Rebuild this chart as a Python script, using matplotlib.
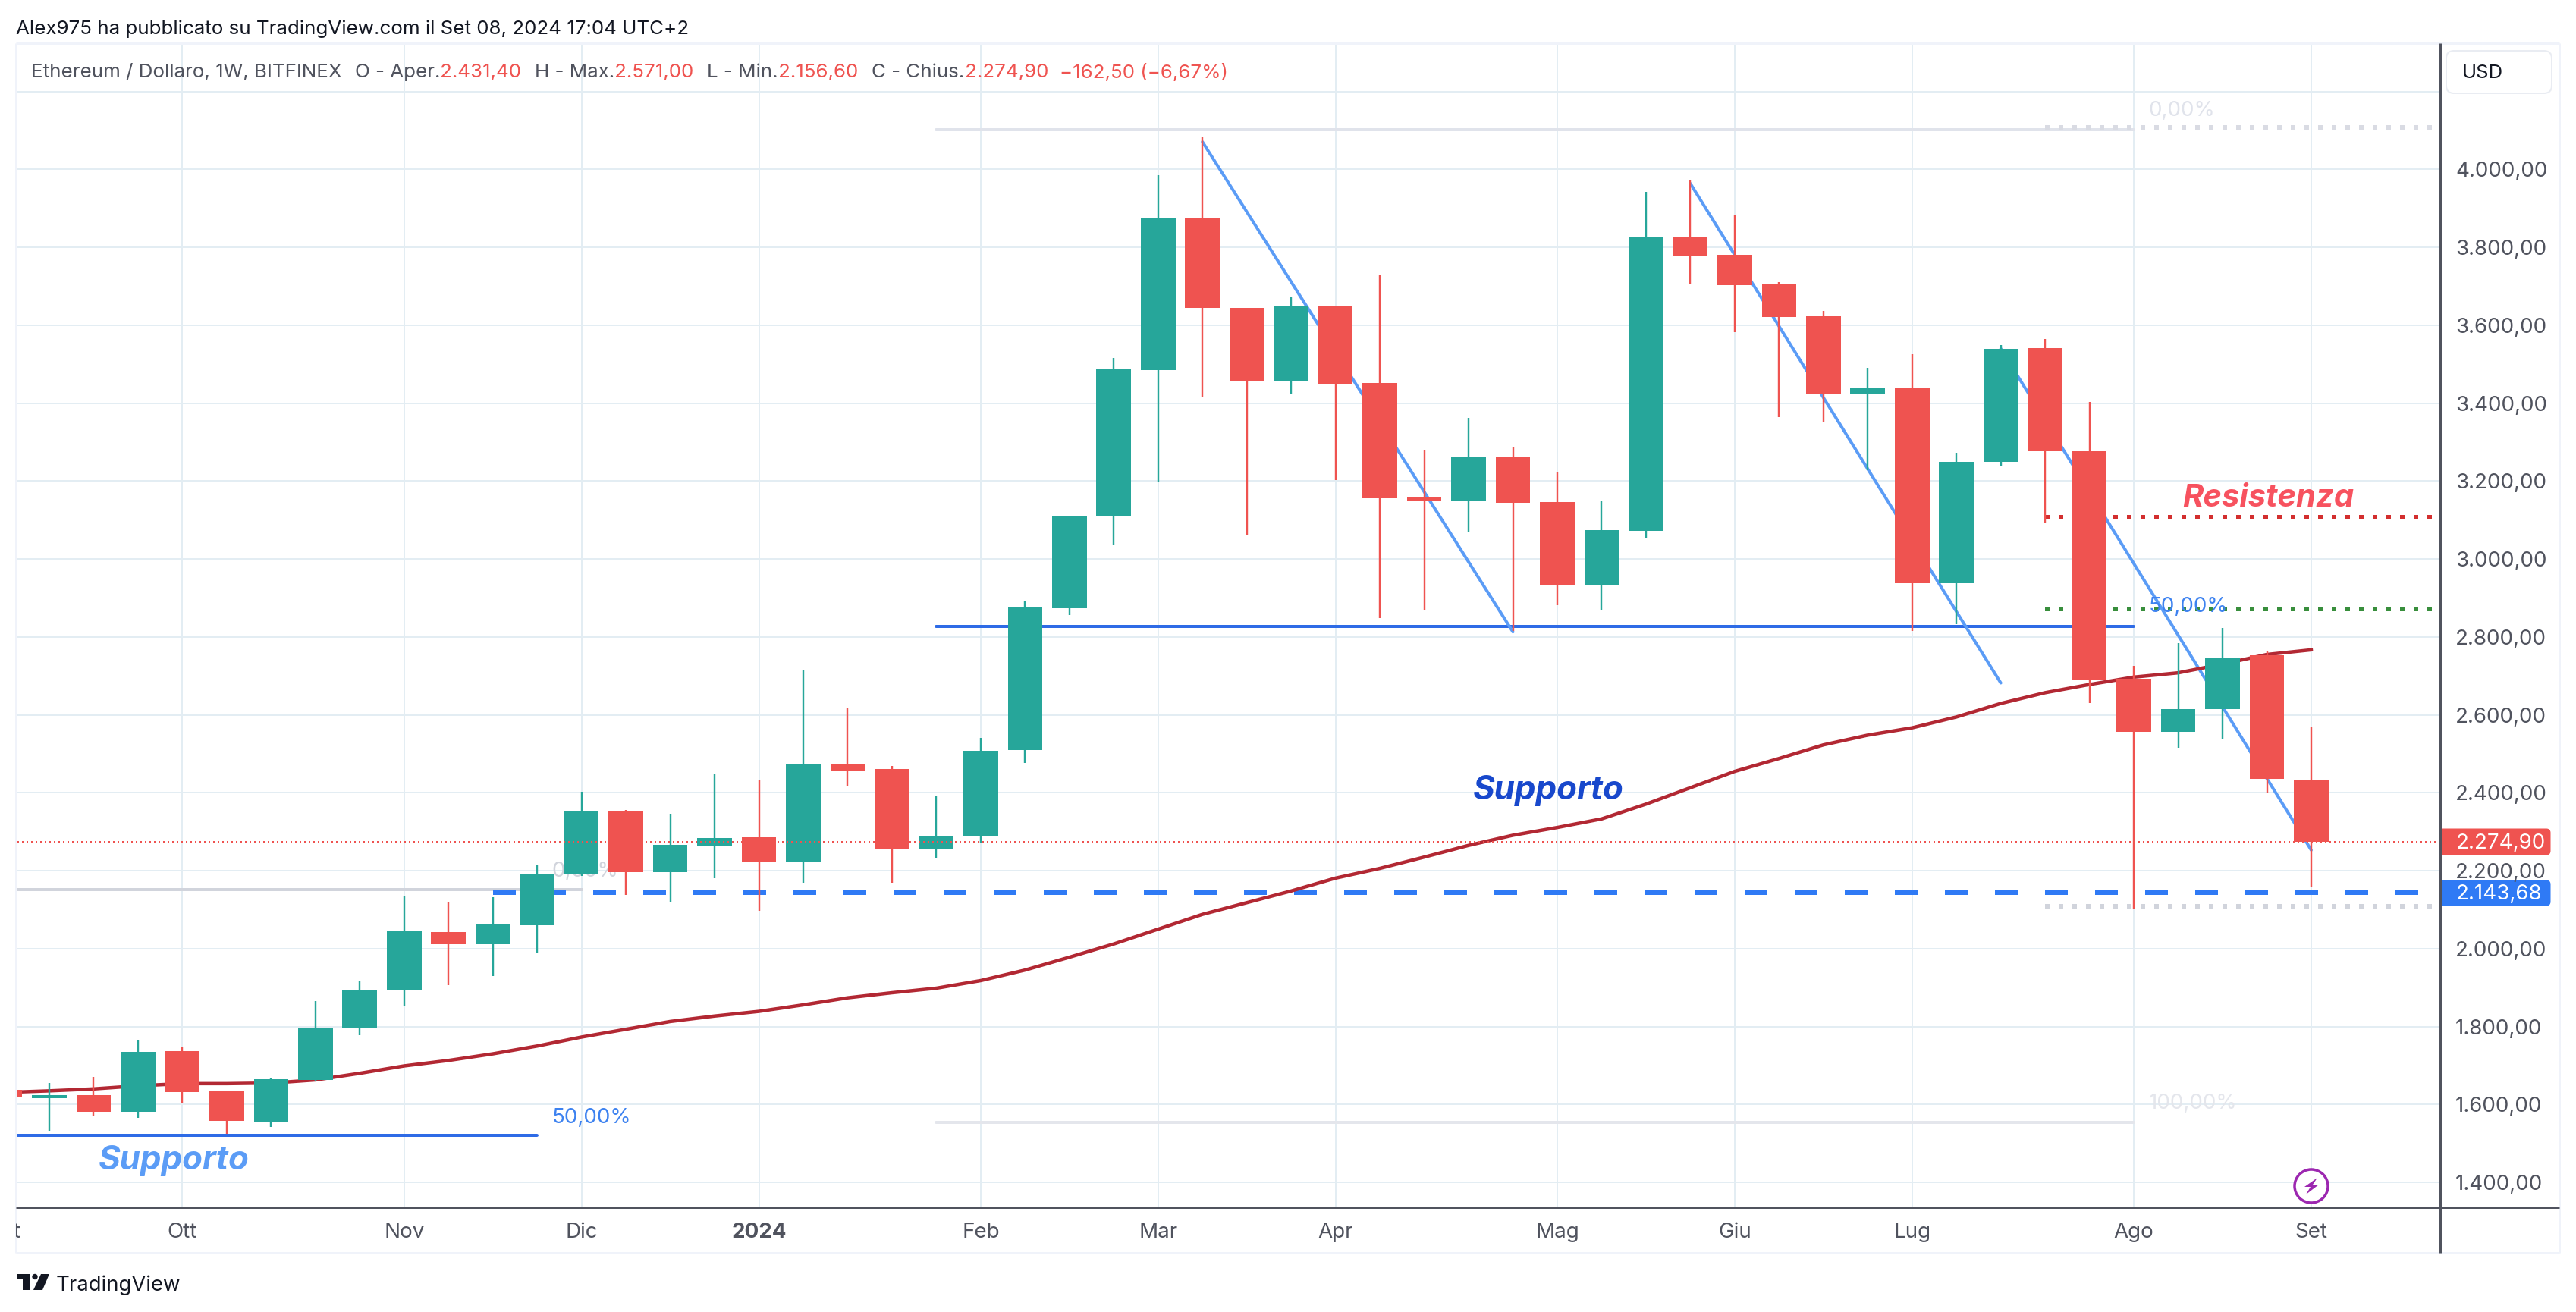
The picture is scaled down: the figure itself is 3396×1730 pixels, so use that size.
import matplotlib
matplotlib.use("Agg")
import matplotlib.pyplot as plt
from matplotlib.patches import FancyBboxPatch, Circle, Polygon
from matplotlib.transforms import Affine2D, Bbox

W, H = 3396, 1731
plt.rcParams["font.family"] = ["Inter", "DejaVu Sans"]

# weekly candles, index 0 = first full candle, -1 = the one cut by the left edge
opens = [1616, 1623.5, 1581, 1737, 1633.5, 1555.5, 1662.6, 1795, 1892.6, 2042.6, 2011.4, 2060.7,
         2190.5, 2354, 2196.3, 2264.5, 2285.9, 2221.7, 2474.7, 2461, 2254.7, 2287.8, 2510, 2873.7,
         3109, 3485.5, 3876.8, 3644.4, 3455.7, 3648.4, 3451.8, 3157.8, 3147.9, 3263, 3146.9, 2934.3,
         3072.4, 3828.2, 3780.5, 3705, 3623.6, 3423, 3439.9, 2938.3, 3249.2, 3541.2, 3276.9, 2692.5,
         2556.7, 2614.3, 2752.9, 2431.4]
closes = [1624, 1581, 1735, 1632, 1558, 1665, 1795, 1895, 2044.5, 2011.4, 2062, 2190.5,
          2354, 2196.3, 2266.4, 2283.9, 2221.7, 2472.8, 2455.3, 2254.7, 2289.8, 2507.8, 2875.7, 3111,
          3487.5, 3876.8, 3644.4, 3455.7, 3648.4, 3447.8, 3155.8, 3147.8, 3263, 3144.9, 2934.3, 3074.4,
          3828.2, 3779.5, 3703, 3621.6, 3425, 3439.9, 2938.3, 3249.2, 3539.2, 3277, 2689.1, 2555.7,
          2614.3, 2747.2, 2435.4, 2274.9]
highs = [1655, 1671, 1764, 1746, 1635, 1669, 1865, 1916, 2134, 2118.5, 2132, 2213.9,
         2402.7, 2356, 2346, 2447.5, 2431.9, 2716, 2616.8, 2468.9, 2391, 2540.9, 2893.6, 3111,
         3516.3, 3985, 4082.4, 3644.4, 3674, 3648.4, 3730.8, 3279, 3362.4, 3288.9, 3224.4, 3149.8,
         3942.4, 3974.2, 3881.8, 3711, 3636.5, 3490.5, 3526.3, 3273, 3549.1, 3565, 3403.2, 2726,
         2784.1, 2823.3, 2765, 2571]
lows = [1533, 1569, 1565, 1605, 1524, 1542, 1659, 1778, 1853.7, 1906, 1929.6, 1988.7,
        2187, 2138, 2118.5, 2180.8, 2097, 2169, 2418.3, 2169, 2233.3, 2271, 2477, 2856,
        3035.6, 3198.5, 3417, 3062.4, 3423, 3202.5, 2848.9, 2867.8, 3070.4, 2816.1, 2881.7, 2867.8,
        3052.5, 3707, 3582.9, 3364.4, 3352.5, 3228.3, 2815.1, 2833, 3240.2, 3094.2, 2629.9, 2100,
        2514.8, 2539, 2398, 2156.6]
cut_candle = (1637.6, 1618)

# moving average, from index -1 to 51
ma_values = [1631, 1635, 1640, 1648, 1653.5, 1653.5, 1655, 1663, 1680, 1699, 1713, 1730, 1750, 1773,
             1793, 1813, 1827, 1839, 1855.7, 1873.8, 1886.8, 1898.5, 1918, 1945, 1978, 2012, 2050,
             2088, 2118, 2148, 2181, 2206, 2235, 2265, 2291, 2311, 2333, 2371, 2413, 2455, 2488,
             2523, 2548, 2566.8, 2594.7, 2629.4, 2657, 2678, 2697, 2708, 2730.5, 2755, 2767]

price_ticks = [1400, 1600, 1800, 2000, 2200, 2400, 2600, 2800, 3000, 3200, 3400, 3600, 3800, 4000, 4200]
price_labels = ["1.400,00", "1.600,00", "1.800,00", "2.000,00", "2.200,00", "2.400,00", "2.600,00",
                "2.800,00", "3.000,00", "3.200,00", "3.400,00", "3.600,00", "3.800,00", "4.000,00"]
month_ticks = [3, 8, 12, 16, 21, 25, 29, 34, 38, 42, 47, 51]
month_labels = ["Ott", "Nov", "Dic", "2024", "Feb", "Mar", "Apr", "Mag", "Giu", "Lug", "Ago", "Set"]

# drawings on the chart: (index, price) pairs
trend_1 = ([26, 33], [4071, 2813])
trend_2 = ([37, 44], [3964, 2682])
trend_3 = ([44, 51], [3540, 2253])
support_mid = 2827
support_low = 1521
fib_top = 4102
fib_bottom = 1554
fib_left = 2151
dot_grey_top = 4108
dot_grey_low = 2109
dot_red = 3108
dot_green = 2872
last_close = 2274.90
dash_level = 2143.68

UP = "#26a69a"
DOWN = "#ef5350"
GRID = "#e3edf3"
TEXT = "#50535e"
AXIS = "#50535e"
FRAME = "#f0f3fa"

fig = plt.figure(figsize=(W / 100, H / 100), dpi=100, facecolor="white")
px = Affine2D().scale(1, -1).translate(0, H)  # picture pixels, origin top left

L, R, T, B = 21, 3217, 58, 1592.5
ax = fig.add_axes([L / W, 1 - B / H, (R - L) / W, (B - T) / H])
ax.set_xlim((L - 65) / 58.47, (R - 65) / 58.47)
ax.set_ylim(4437 - 1.9467 * B, 4437 - 1.9467 * T)
for s in ax.spines.values():
    s.set_visible(False)
ax.set_xticks(month_ticks)
ax.set_yticks(price_ticks)
ax.tick_params(length=0, labelbottom=False, labelleft=False)
ax.grid(True, color=GRID, lw=2 * 0.72, zorder=0)
ax.set_axisbelow(True)


def lw(p):
    return p * 0.72


# fib and support lines
ax.plot([20, 47], [fib_top, fib_top], color="#e0e3eb", lw=lw(4), zorder=1, solid_capstyle="round")
ax.plot([20, 47], [fib_bottom, fib_bottom], color="#e4e6ec", lw=lw(4), zorder=1, solid_capstyle="round")
ax.plot([-2, 12], [fib_left, fib_left], color="#d1d4dc", lw=lw(4), zorder=1)
ax.plot([20, 47], [support_mid, support_mid], color="#2e6be6", lw=lw(4), zorder=1.5, solid_capstyle="round")
ax.plot([-2, 11], [support_low, support_low], color="#2e6be6", lw=lw(4), zorder=1.5, solid_capstyle="round")

for level, col in [(dot_grey_top, "#d9dbe3"), (dot_grey_low, "#d1d4dc"), (dot_red, "#d32f2f"), (dot_green, "#388e3c")]:
    ax.plot([45, 53.75], [level, level], color=col, lw=lw(6), ls=(0, (1, 2)), dash_capstyle="butt", zorder=1)
ax.plot([10, 54.05], [dash_level, dash_level], color="#2f7af5", lw=lw(6), ls=(0, (5, 6)), dash_capstyle="butt", zorder=1.5)

for tx, ty in (trend_1, trend_2, trend_3):
    ax.plot(tx, ty, color="#5b9cf6", lw=lw(4), zorder=1.6, solid_capstyle="round")
ax.plot(list(range(-1, 52)), ma_values, color="#b22833", lw=lw(4.5), zorder=1.7)

# candles
idx = list(range(len(opens)))
for i, o, c, h, l in zip(idx, opens, closes, highs, lows):
    col = UP if c >= o else DOWN
    ax.vlines(i, l, h, color=col, lw=lw(2.4), zorder=3)
    ax.bar(i, abs(c - o), bottom=min(o, c), width=0.78, color=col, lw=0, zorder=3)
ax.bar(-1, cut_candle[0] - cut_candle[1], bottom=cut_candle[1], width=0.78, color=DOWN, lw=0, zorder=3)

ax.plot([-2, 54.05], [last_close, last_close], color=DOWN, lw=lw(2), ls=(0, (1, 2)), dash_capstyle="butt", zorder=4)

# level labels
ax.text(11.33, fib_left + 50, "0,00%", color="#d1d4dc", fontsize=20, va="center", zorder=2)
ax.text(11.33, support_low + 46, "50,00%", color="#3d82f0", fontsize=20, va="center", zorder=5)
ax.text(47.33, 4153, "0,00%", color="#e0e3eb", fontsize=20, va="center", zorder=2)
ax.text(47.33, 2879, "50,00%", color="#3d82f0", fontsize=20, va="center", zorder=5)
ax.text(47.33, 1605, "100,00%", color="#e4e6ec", fontsize=20, va="center", zorder=2)

note = dict(fontweight="bold", fontstyle="italic", va="center", ha="left", zorder=6)
ax.text(1.11, 1457, "Supporto", color="#5b9cf6", fontsize=31.5, **note)
ax.text(32.1, 2407, "Supporto", color="#1848cc", fontsize=31.5, **note)
ax.text(48.1, 3158, "Resistenza", color="#f7525f", fontsize=30, **note)


# everything around the plot, placed in picture pixels
def line(x0, y0, x1, y1, col, w):
    fig.add_artist(plt.Line2D([x0, x1], [y0, y1], color=col, lw=lw(w), transform=px, solid_capstyle="butt"))


def txt(x, y, s, col=TEXT, size=20, **kw):
    kw.setdefault("va", "center")
    kw.setdefault("ha", "left")
    return fig.text(x, y, s, color=col, fontsize=size, transform=px, **kw)


line(L, T, 3374, T, FRAME, 3)
line(L, T, L, 1653, FRAME, 3)
line(3374, T, 3374, 1653, FRAME, 3)
line(L, 1653, 3374, 1653, FRAME, 3)
line(R, T, R, 1653, AXIS, 3)
line(L, B, 3374, B, AXIS, 3)

for val, lab in zip(price_ticks, price_labels):
    y = (4437 - val) / 1.9467
    txt(3237, y + 2, lab, size=20)

for i, lab in zip(month_ticks, month_labels):
    x = 65 + 58.47 * i
    txt(x, 1625, lab, ha="center", size=20, fontweight="bold" if lab == "2024" else "normal")
t = txt(27, 1625, "Set", ha="right", size=20)
t.set_clip_box(Bbox([[L, H - 1653], [R, H - B]]))
t.set_clip_on(True)

# price tags
for y0, y1, col, lab in [(1092, 1130, DOWN, "2.274,90"), (1160, 1197, "#2f7af5", "2.143,68")]:
    fig.add_artist(FancyBboxPatch((R, y0 + 3), 144, y1 - y0 - 6, boxstyle="round,pad=0,rounding_size=4",
                                  fc=col, ec=col, lw=lw(3), transform=px))
    txt(3238, (y0 + y1) / 2 + 1, lab, col="white", size=20)

fig.add_artist(FancyBboxPatch((3225, 68), 139, 56, boxstyle="round,pad=0,rounding_size=10",
                              fc="white", ec="#e9ecf2", lw=lw(2), transform=px))
txt(3246, 97, "USD", col="#131722", size=18.5)

# lightning badge
fig.add_artist(Circle((3047, 1565), 22, fc="white", ec="#9c27b0", lw=lw(3.5), transform=px))
fig.add_artist(Polygon([(3055, 1554), (3038, 1566), (3046, 1566), (3040, 1576), (3057, 1563), (3049, 1563)],
                       closed=True, fc="#9c27b0", ec="none", transform=px))

# header and legend
txt(21, 38, "Alex975 ha pubblicato su TradingView.com il Set 08, 2024 17:04 UTC+2", col="#131722", size=18.7)
legend_parts = [(41, "Ethereum / Dollaro, 1W, BITFINEX", TEXT), (468, "O - Aper.", TEXT), (580, "2.431,40", DOWN),
                (705, "H - Max.", TEXT), (810, "2.571,00", DOWN), (932, "L - Min.", TEXT), (1026, "2.156,60", DOWN),
                (1149, "C - Chius.", TEXT), (1272, "2.274,90", DOWN), (1397, "\u2212162,50 (\u22126,67%)", DOWN)]
for x, s, col in legend_parts:
    txt(x, 96, s, col=col, size=18.7)

# logo
fig.add_artist(Polygon([(22, 1681), (40, 1681), (40, 1702), (30, 1702), (30, 1688), (22, 1688)],
                       closed=True, fc="#131722", ec="none", transform=px))
fig.add_artist(Circle((46, 1684.5), 3.7, fc="#131722", ec="none", transform=px))
fig.add_artist(Polygon([(54, 1681), (65, 1681), (56, 1702), (44, 1702)],
                       closed=True, fc="#131722", ec="none", transform=px))
txt(74, 1695, "TradingView", col="#131722", size=19.8)

fig.savefig("out.png", dpi=100, facecolor="white")
